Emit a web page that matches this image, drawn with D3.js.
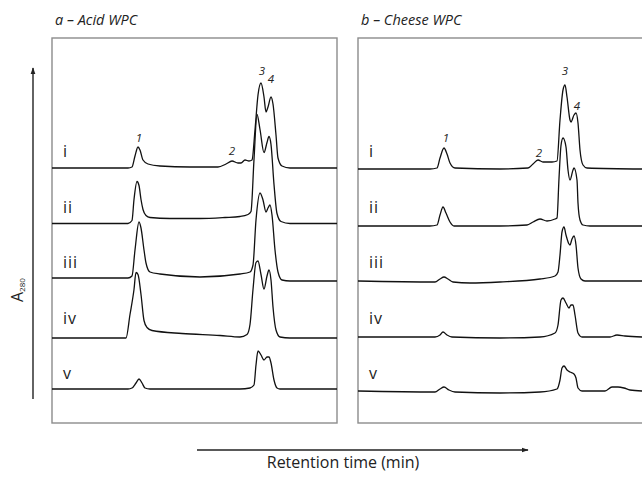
<!DOCTYPE html>
<html>
<head>
<meta charset="utf-8">
<script src="https://cdn.jsdelivr.net/npm/d3@7"></script>
<style>
  body { margin: 0; background: #fff; }
  svg text { font-family: "Open Sans", "DejaVu Sans", sans-serif; fill: #222; }
</style>
</head>
<body>
<svg id="chart" width="642" height="479"></svg>
<script>
// retention time (min) vs A280 (offset units above each trace's baseline)
const traceNames = ["i", "ii", "iii", "iv", "v"];

const acid_i = [[0,0],[9.6,0],[15.2,0],[16.0,0.01],[16.6,0.12],[17.2,0.21],[17.6,0.18],[18.2,0.08],[19.2,0.04],[21.6,0.02],
  [27.6,0.01],[33.2,0.01],[34.8,0.04],[36.0,0.07],[37.2,0.05],[37.8,0.05],[38.6,0.08],[39.4,0.07],[40.0,0.08],[40.6,0.38],
  [41.2,0.73],[41.8,0.85],[42.4,0.71],[42.8,0.56],[43.2,0.61],[43.8,0.71],[44.2,0.64],[44.8,0.33],[45.2,0.10],[46.0,0.02],[47.6,0],[57,0]];
const acid_ii = [[0,0],[15.2,0],[16.0,0.03],[16.4,0.24],[17.0,0.42],[17.4,0.38],[17.8,0.24],[18.2,0.14],[18.8,0.08],[19.6,0.06],
  [23.6,0.05],[29.6,0.05],[34.6,0.06],[37.6,0.07],[39.2,0.09],[39.8,0.12],[40.4,0.64],[41.0,1.09],[41.6,0.94],[42.4,0.71],
  [43.0,0.81],[43.4,0.87],[43.8,0.79],[44.4,0.39],[45.0,0.10],[45.8,0.02],[47.6,0],[57,0]];
const acid_iii = [[0,0.01],[15.2,0.01],[16.0,0.03],[16.6,0.29],[17.4,0.57],[17.8,0.51],[18.4,0.29],[18.8,0.16],[19.6,0.07],[21.6,0.05],
  [29.6,0.02],[37.6,0.05],[39.6,0.07],[40.2,0.14],[40.8,0.59],[41.6,0.86],[42.2,0.79],[42.8,0.67],[43.2,0.71],[43.6,0.74],
  [44.0,0.64],[44.6,0.29],[45.2,0.07],[46.0,-0.01],[47.6,-0.02],[57,-0.02]];
const acid_iv = [[0,-0.035],[14.8,-0.035],[15.6,0.2],[16.4,0.45],[16.8,0.62],[17.2,0.6],[17.8,0.4],[18.4,0.14],[19.0,0.07],[20.0,0.04],
  [26,0.01],[33.6,-0.01],[37.6,-0.025],[39.0,0],[39.6,0.1],[40.2,0.45],[40.8,0.72],[41.2,0.735],[41.8,0.6],[42.4,0.455],
  [43.0,0.585],[43.4,0.645],[43.8,0.545],[44.2,0.275],[44.8,0.045],[45.6,-0.025],[47.6,-0.035],[57,-0.035]];
const acid_v = [[0,0.01],[15.2,0.01],[16.0,0.02],[16.8,0.07],[17.4,0.11],[18.0,0.07],[18.6,0.02],[19.6,0.01],[29.6,0.01],[37.6,0.01],
  [39.6,0.02],[40.4,0.05],[40.8,0.25],[41.2,0.39],[41.8,0.35],[42.4,0.30],[43.0,0.33],[43.4,0.33],[43.8,0.27],[44.4,0.10],
  [45.0,0.02],[45.6,0.01],[57,0.01]];

const cheese_i = [[0,-0.01],[14.4,-0.01],[15.8,0],[16.4,0.10],[17.2,0.20],[17.8,0.14],[18.4,0.05],[19.4,0],[28.4,-0.01],[34.0,0],
  [35.0,0.04],[36.0,0.08],[37.0,0.06],[38.8,0.06],[39.8,0.07],[40.4,0.48],[41.0,0.78],[41.4,0.83],[41.8,0.71],[42.4,0.48],
  [42.6,0.46],[43.2,0.53],[43.6,0.55],[44.0,0.45],[44.4,0.18],[45.0,0.03],[45.8,0],[56.8,-0.01]];
const cheese_ii = [[0,-0.025],[14.4,-0.025],[15.8,-0.015],[16.4,0.085],[17.0,0.165],[17.6,0.105],[18.4,0.015],[19.2,-0.025],[28.4,-0.025],
  [33.8,-0.015],[35.0,0.015],[36.4,0.045],[37.8,0.025],[39.4,0.045],[39.8,0.055],[40.2,0.45],[40.6,0.78],[41.0,0.855],[41.6,0.765],
  [42.0,0.535],[42.4,0.435],[43.0,0.535],[43.2,0.555],[43.8,0.435],[44.0,0.205],[44.4,0.035],[45.0,-0.015],[46.4,-0.025],[56.8,-0.025]];
const cheese_iii = [[0,-0.02],[15.4,-0.03],[16.4,0],[17.2,0.02],[18.0,0],[19.0,-0.03],[22.4,-0.04],[28.4,-0.03],[36.4,0],[39.4,0.03],
  [40.0,0.07],[40.4,0.24],[40.8,0.47],[41.2,0.52],[41.6,0.44],[42.2,0.35],[42.4,0.34],[42.8,0.40],[43.2,0.43],[43.6,0.34],
  [44.0,0.11],[44.6,0],[45.4,-0.02],[56.8,-0.02]];
const cheese_iv = [[0,-0.025],[15.4,-0.025],[16.4,-0.005],[17.0,0.025],[17.8,-0.005],[18.8,-0.025],[28.4,-0.035],[36.4,-0.025],[39.4,0.015],
  [40.0,0.095],[40.6,0.345],[41.0,0.365],[41.6,0.315],[42.2,0.265],[42.6,0.295],[43.0,0.295],[43.4,0.195],[44.0,0.015],[44.8,-0.025],
  [50.4,-0.025],[51.8,-0.005],[53.4,-0.015],[56.8,-0.025]];
const cheese_v = [[0,-0.01],[15.4,-0.02],[16.4,0.01],[17.2,0.03],[18.2,0],[19.4,-0.02],[28.4,-0.03],[36.4,-0.02],[39.8,0.01],[40.4,0.10],
  [40.8,0.22],[41.2,0.24],[41.8,0.20],[42.4,0.18],[43.2,0.16],[43.6,0.12],[44.0,0.02],[44.8,-0.01],[49.4,-0.01],[50.8,0.03],
  [52.0,0.03],[53.2,0.02],[54.4,0],[56.8,-0.01]];

// peak numbers: [label, time, height above trace i]
const acidPeaks = [["1",17.4,0.26],["2",36.0,0.13],["3",42.0,0.93],["4",43.8,0.85]];
const cheesePeaks = [["1",17.6,0.26],["2",36.2,0.11],["3",41.4,0.93],["4",43.8,0.58]];

const panels = [
  {title: "a \u2013 Acid WPC", left: 52, traces: [acid_i, acid_ii, acid_iii, acid_iv, acid_v], peaks: acidPeaks},
  {title: "b \u2013 Cheese WPC", left: 358, traces: [cheese_i, cheese_ii, cheese_iii, cheese_iv, cheese_v], peaks: cheesePeaks}
];

const svg = d3.select("#chart");
const panelW = 285, boxTop = 38, boxBottom = 423;

const base = d3.scalePoint().domain(traceNames).range([168, 390]);
const yA = d3.scaleLinear().domain([0, 1]).range([0, -100]);

svg.append("defs").append("marker")
    .attr("id", "head")
    .attr("viewBox", "0 0 10 10")
    .attr("refX", 9).attr("refY", 5)
    .attr("markerWidth", 7).attr("markerHeight", 7)
    .attr("markerUnits", "userSpaceOnUse")
    .attr("orient", "auto")
  .append("path")
    .attr("d", "M0,1.5L10,5L0,8.5Z")
    .attr("fill", "#222");

panels.forEach((p, pi) => {
    const x = d3.scaleLinear().domain([0, 57]).range([p.left, p.left + panelW]);

    svg.append("clipPath").attr("id", "clip" + pi)
      .append("rect")
        .attr("x", p.left).attr("y", boxTop)
        .attr("width", panelW).attr("height", boxBottom - boxTop);

    svg.append("rect")
        .attr("x", p.left).attr("y", boxTop)
        .attr("width", panelW).attr("height", boxBottom - boxTop)
        .attr("fill", "none")
        .attr("stroke", "#8c8c8c")
        .attr("stroke-width", 1.4);

    svg.append("text")
        .attr("x", p.left + 3).attr("y", 25)
        .attr("font-size", 14.5)
        .attr("font-style", "italic")
        .text(p.title);

    const g = svg.append("g").attr("clip-path", `url(#clip${pi})`);

    p.traces.forEach((tr, ti) => {
        const b = base(traceNames[ti]);
        const line = d3.line()
            .x(d => x(d[0]))
            .y(d => b + yA(d[1]))
            .curve(d3.curveMonotoneX);
        g.append("path")
            .attr("d", line(tr))
            .attr("fill", "none")
            .attr("stroke", "#111")
            .attr("stroke-width", 1.3)
            .attr("stroke-linejoin", "round");

        svg.append("text")
            .attr("x", p.left + 11)
            .attr("y", b - 11)
            .attr("font-size", 16)
            .attr("letter-spacing", 1)
            .text(traceNames[ti]);
    });

    const b0 = base(traceNames[0]);
    svg.selectAll(null)
        .data(p.peaks)
        .enter().append("text")
        .attr("x", d => x(d[1]))
        .attr("y", d => b0 + yA(d[2]))
        .attr("text-anchor", "middle")
        .attr("font-size", 11.5)
        .attr("font-style", "italic")
        .text(d => d[0]);
});

// A280 arrow
svg.append("line")
    .attr("x1", 33).attr("y1", 399)
    .attr("x2", 33).attr("y2", 68)
    .attr("stroke", "#222")
    .attr("stroke-width", 1.4)
    .attr("marker-end", "url(#head)");

const yl = svg.append("text")
    .attr("transform", "translate(23,302) rotate(-90)")
    .attr("font-size", 16);
yl.append("tspan").text("A");
yl.append("tspan").attr("font-size", 8).attr("dy", 2).text("280");

// retention time arrow
svg.append("line")
    .attr("x1", 197).attr("y1", 450)
    .attr("x2", 528).attr("y2", 450)
    .attr("stroke", "#222")
    .attr("stroke-width", 1.4)
    .attr("marker-end", "url(#head)");

svg.append("text")
    .attr("x", 343).attr("y", 468)
    .attr("text-anchor", "middle")
    .attr("font-size", 16)
    .text("Retention time (min)");
</script>
</body>
</html>
